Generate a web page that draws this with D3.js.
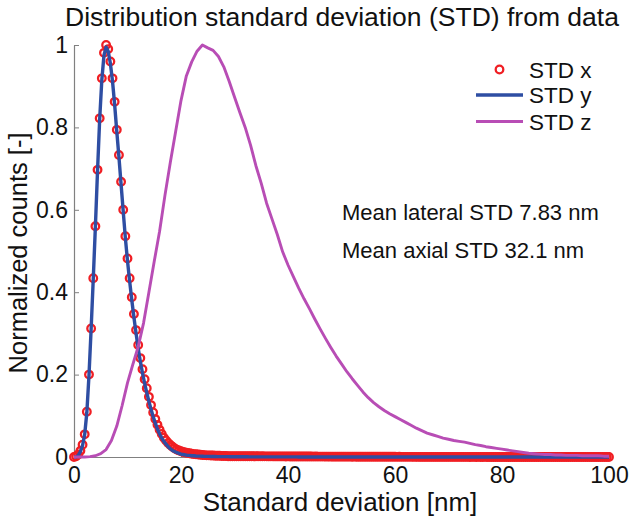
<!DOCTYPE html>
<html><head><meta charset="utf-8">
<script src="https://cdn.jsdelivr.net/npm/d3@7"></script>
<style>
body{margin:0;background:#fff}
svg{display:block;font-family:"Liberation Sans",Arial,Helvetica,sans-serif}
</style>
</head><body>
<svg id="chart" width="632" height="523"></svg>
<script>
// ---------------- data ----------------
const titleText = "Distribution standard deviation (STD) from data";
const xLabel = "Standard deviation [nm]";
const yLabel = "Normalized counts [-]";
const seriesNames = ["STD x", "STD y", "STD z"];
const notes = ["Mean lateral STD 7.83 nm", "Mean axial STD 32.1 nm"];
const xTicks = [0, 20, 40, 60, 80, 100];
const yTicks = [0, 0.2, 0.4, 0.6, 0.8, 1];

// histogram bins (nm) for STD x / STD y, bin spacing 0.4 nm from 0 to 100
const binStep = 0.4;
const stdX = [
 0, 0.002, 0.006, 0.015, 0.030, 0.055, 0.110, 0.200, 0.312, 0.434, 0.560, 0.697, 0.822, 0.919, 0.981, 1.000, 0.990, 0.960, 0.919, 0.862, 0.794, 0.733, 0.668, 0.600, 0.536,
 0.482, 0.434, 0.388, 0.347, 0.308, 0.272, 0.240, 0.213, 0.189, 0.167, 0.146, 0.126, 0.108, 0.092, 0.078, 0.066, 0.056, 0.047, 0.040, 0.034, 0.029, 0.025, 0.021, 0.018, 0.016,
 0.014, 0.012, 0.011, 0.010, 0.009, 0.008, 0.007, 0.0065, 0.006, 0.0055, 0.005, 0.0045, 0.004, 0.004, 0.0035, 0.0035, 0.003, 0.003, 0.003, 0.0025, 0.0025, 0.0025, 0.002, 0.002, 0.002,
 0.002, 0.002, 0.002, 0.0019, 0.002, 0.0018, 0.0019, 0.0018, 0.0018, 0.0017, 0.0018, 0.0017, 0.0016, 0.0017, 0.0016, 0.0016, 0.0015, 0.0016, 0.0015, 0.0015, 0.0014, 0.0015, 0.0014, 0.0014, 0.0013,
 0.0014, 0.0013, 0.0013, 0.0012, 0.0013, 0.0012, 0.0012, 0.0011, 0.0012, 0.0011, 0.0011, 0.0011, 0.001, 0.0011, 0.001, 0.001, 0.001, 0.001, 0.0009, 0.001, 0.0009, 0.0009, 0.0009, 0.0009, 0.0008,
 0.0009, 0.0008, 0.0008, 0.0008, 0.0008, 0.0007, 0.0008, 0.0007, 0.0007, 0.0007, 0.0007, 0.0006, 0.0007, 0.0006, 0.0006, 0.0006, 0.0006, 0.0006, 0.0005, 0.0006, 0.0005, 0.0005, 0.0005, 0.0005, 0.0005,
 0.0005, 0.0004, 0.0005, 0.0004, 0.0004, 0.0004, 0.0004, 0.0004, 0.0004, 0.0003, 0.0004, 0.0003, 0.0003, 0.0003, 0.0003, 0.0003, 0.0003, 0.0003, 0.0003, 0.0003, 0.0002, 0.0003, 0.0002, 0.0002, 0.0002,
 0.0002, 0.0002, 0.0002, 0.0002, 0.0002, 0.0002, 0.0002, 0.0002, 0.0002, 0.0002, 0.0001, 0.0002, 0.0002, 0.0001, 0.0002, 0.0001, 0.0001, 0.0002, 0.0001, 0.0001, 0.0001, 0.0001, 0.0001, 0.0001, 0.0001,
 0.0001, 0.0001, 0.0001, 0.0001, 0.0001, 0.0001, 0.0001, 0.0001, 0.0001, 0.0001, 0.0001, 0.0001, 0.0001, 0.0001, 0.0001, 0.0001, 0.0001, 0.0001, 0.0001, 0.0001, 0.0001, 0.0001, 0.0001, 0.0001, 0.0001,
 0.0001, 0.0001, 0.0001, 0.0001, 0.0001, 0.0001, 0.0001, 0.0001, 0.0001, 0.0001, 0.0001, 0.0001, 0, 0.0001, 0, 0, 0.0001, 0, 0, 0, 0, 0, 0, 0, 0,
 0
];
const stdY = [
 0, 0.000, 0.004, 0.013, 0.028, 0.055, 0.108, 0.198, 0.310, 0.432, 0.560, 0.695, 0.820, 0.915, 0.975, 0.995, 0.985, 0.955, 0.912, 0.855, 0.790, 0.728, 0.662, 0.596, 0.532,
 0.476, 0.427, 0.381, 0.339, 0.300, 0.264, 0.232, 0.204, 0.179, 0.156, 0.135, 0.116, 0.098, 0.082, 0.068, 0.056, 0.046, 0.038, 0.031, 0.025, 0.020, 0.016, 0.013, 0.011, 0.009,
 0.007, 0.006, 0.005, 0.004, 0.004, 0.003, 0.003, 0.0025, 0.0022, 0.002, 0.0018, 0.0016, 0.0015, 0.0014, 0.0013, 0.0012, 0.0011, 0.001, 0.001, 0.0009, 0.0009, 0.0008, 0.0008, 0.0007, 0.0007,
 0.0006, 0.0006, 0.0006, 0.0005, 0.0005, 0.0005, 0.0005, 0.0004, 0.0004, 0.0004, 0.0004, 0.0004, 0.0003, 0.0003, 0.0003, 0.0003, 0.0003, 0.0003, 0.0003, 0.0002, 0.0002, 0.0002, 0.0002, 0.0002, 0.0002,
 0.0002, 0.0002, 0.0002, 0.0002, 0.0002, 0.0001, 0.0001, 0.0001, 0.0001, 0.0001, 0.0001, 0.0001, 0.0001, 0.0001, 0.0001, 0.0001, 0.0001, 0.0001, 0.0001, 0.0001, 0.0001, 0.0001, 0.0001, 0.0001, 0.0001,
 0.0001, 0.0001, 0.0001, 0.0001, 0.0001, 0.0001, 0.0001, 0.0001, 0.0001, 0.0001, 0.0001, 0.0001, 0.0001, 0.0001, 0.0001, 0, 0.0001, 0, 0.0001, 0, 0, 0, 0, 0, 0,
 0, 0, 0, 0, 0, 0, 0, 0, 0, 0, 0, 0, 0, 0, 0, 0, 0, 0, 0, 0, 0, 0, 0, 0, 0,
 0, 0, 0, 0, 0, 0, 0, 0, 0, 0, 0, 0, 0, 0, 0, 0, 0, 0, 0, 0, 0, 0, 0, 0, 0,
 0, 0, 0, 0, 0, 0, 0, 0, 0, 0, 0, 0, 0, 0, 0, 0, 0, 0, 0, 0, 0, 0, 0, 0, 0,
 0, 0, 0, 0, 0, 0, 0, 0, 0, 0, 0, 0, 0, 0, 0, 0, 0, 0, 0, 0, 0, 0, 0, 0, 0,
 0
];
// STD z sampled every 1 nm from 0 to 100
const zStep = 1;
const stdZ = [
 0, 0, 0, 0.001, 0.003, 0.008, 0.018, 0.040, 0.075, 0.125,
 0.180, 0.225, 0.268, 0.325, 0.400, 0.475, 0.548, 0.635, 0.715, 0.790,
 0.865, 0.925, 0.959, 0.985, 1.000, 0.993, 0.987, 0.972, 0.947, 0.912,
 0.874, 0.836, 0.800, 0.757, 0.707, 0.664, 0.616, 0.578, 0.540, 0.498,
 0.466, 0.438, 0.410, 0.384, 0.360, 0.335, 0.311, 0.288, 0.266, 0.245,
 0.226, 0.207, 0.190, 0.174, 0.158, 0.144, 0.132, 0.122, 0.113, 0.105,
 0.098, 0.091, 0.084, 0.077, 0.070, 0.064, 0.058, 0.054, 0.050, 0.046,
 0.043, 0.040, 0.038, 0.036, 0.033, 0.030, 0.028, 0.025, 0.023, 0.021,
 0.019, 0.017, 0.015, 0.013, 0.011, 0.009, 0.008, 0.007, 0.006, 0.006,
 0.005, 0.005, 0.004, 0.004, 0.004, 0.003, 0.003, 0.003, 0.003, 0.002,
 0.002
];

// ---------------- drawing ----------------
const svg = d3.select("#chart");
const x = d3.scaleLinear().domain([0, 100]).range([74, 609]);
const y = d3.scaleLinear().domain([0, 1]).range([457, 45]);

const colX = "#f01e23", colY = "#2e4ea3", colZ = "#b84db5", axisCol = "#808080";
const fontFam = '"Liberation Sans",Arial,sans-serif';

const binX = stdX.map((_, i) => +(i * binStep).toFixed(1));
const zX = stdZ.map((_, i) => i * zStep);

// axes
const gx = svg.append("g").attr("transform", `translate(0,${y(0)})`)
  .call(d3.axisBottom(x).tickValues(xTicks).tickSizeInner(-5).tickSizeOuter(0).tickPadding(10).tickFormat(d3.format("~g")));
const gy = svg.append("g").attr("transform", `translate(${x(0)},0)`)
  .call(d3.axisLeft(y).tickValues(yTicks).tickSizeInner(-5).tickSizeOuter(0).tickPadding(6).tickFormat(d3.format("~g")));
[gx, gy].forEach(g => {
  g.select(".domain").attr("stroke", axisCol).attr("stroke-width", 1.2);
  g.selectAll(".tick line").attr("stroke", axisCol);
  g.selectAll(".tick text").attr("fill", "#111").style("font-size", "23px").style("font-family", fontFam);
});

// STD x circles
svg.append("g").selectAll("circle").data(stdX).join("circle")
  .attr("cx", (d, i) => x(binX[i])).attr("cy", d => y(d)).attr("r", 3.8)
  .attr("fill", "none").attr("stroke", colX).attr("stroke-width", 2.3);

// STD y line
svg.append("path").datum(stdY)
  .attr("d", d3.line().x((d, i) => x(binX[i])).y(d => y(d)))
  .attr("fill", "none").attr("stroke", colY).attr("stroke-width", 3.4).attr("stroke-linejoin", "round");

// STD z line
svg.append("path").datum(stdZ)
  .attr("d", d3.line().x((d, i) => x(zX[i])).y(d => y(d)))
  .attr("fill", "none").attr("stroke", colZ).attr("stroke-width", 2.9).attr("stroke-linejoin", "round");

// title and labels
svg.append("text").attr("x", 342).attr("y", 26).attr("text-anchor", "middle")
  .style("font-size", "26.5px").attr("fill", "#111").text(titleText);
svg.append("text").attr("x", 340).attr("y", 511).attr("text-anchor", "middle")
  .style("font-size", "26px").attr("fill", "#111").text(xLabel);
svg.append("text").attr("transform", `translate(27,253) rotate(-90)`).attr("text-anchor", "middle")
  .style("font-size", "25.5px").attr("fill", "#111").text(yLabel);

// legend
const legY = [69.5, 95, 121.5];
const leg = svg.append("g");
leg.append("circle").attr("cx", 499.5).attr("cy", legY[0]).attr("r", 3.8)
  .attr("fill", "none").attr("stroke", colX).attr("stroke-width", 2.3);
leg.append("line").attr("x1", 476).attr("x2", 523).attr("y1", legY[1]).attr("y2", legY[1])
  .attr("stroke", colY).attr("stroke-width", 3.4);
leg.append("line").attr("x1", 476).attr("x2", 523).attr("y1", legY[2]).attr("y2", legY[2])
  .attr("stroke", colZ).attr("stroke-width", 2.9);
leg.selectAll("text").data(seriesNames).join("text")
  .attr("x", 529).attr("y", (d, i) => legY[i] + 8).style("font-size", "22.5px").attr("fill", "#111").text(d => d);

// notes
svg.append("g").selectAll("text").data(notes).join("text")
  .attr("x", 342).attr("y", (d, i) => 220 + i * 38).style("font-size", "22px").attr("fill", "#111").text(d => d);
</script>
</body></html>
